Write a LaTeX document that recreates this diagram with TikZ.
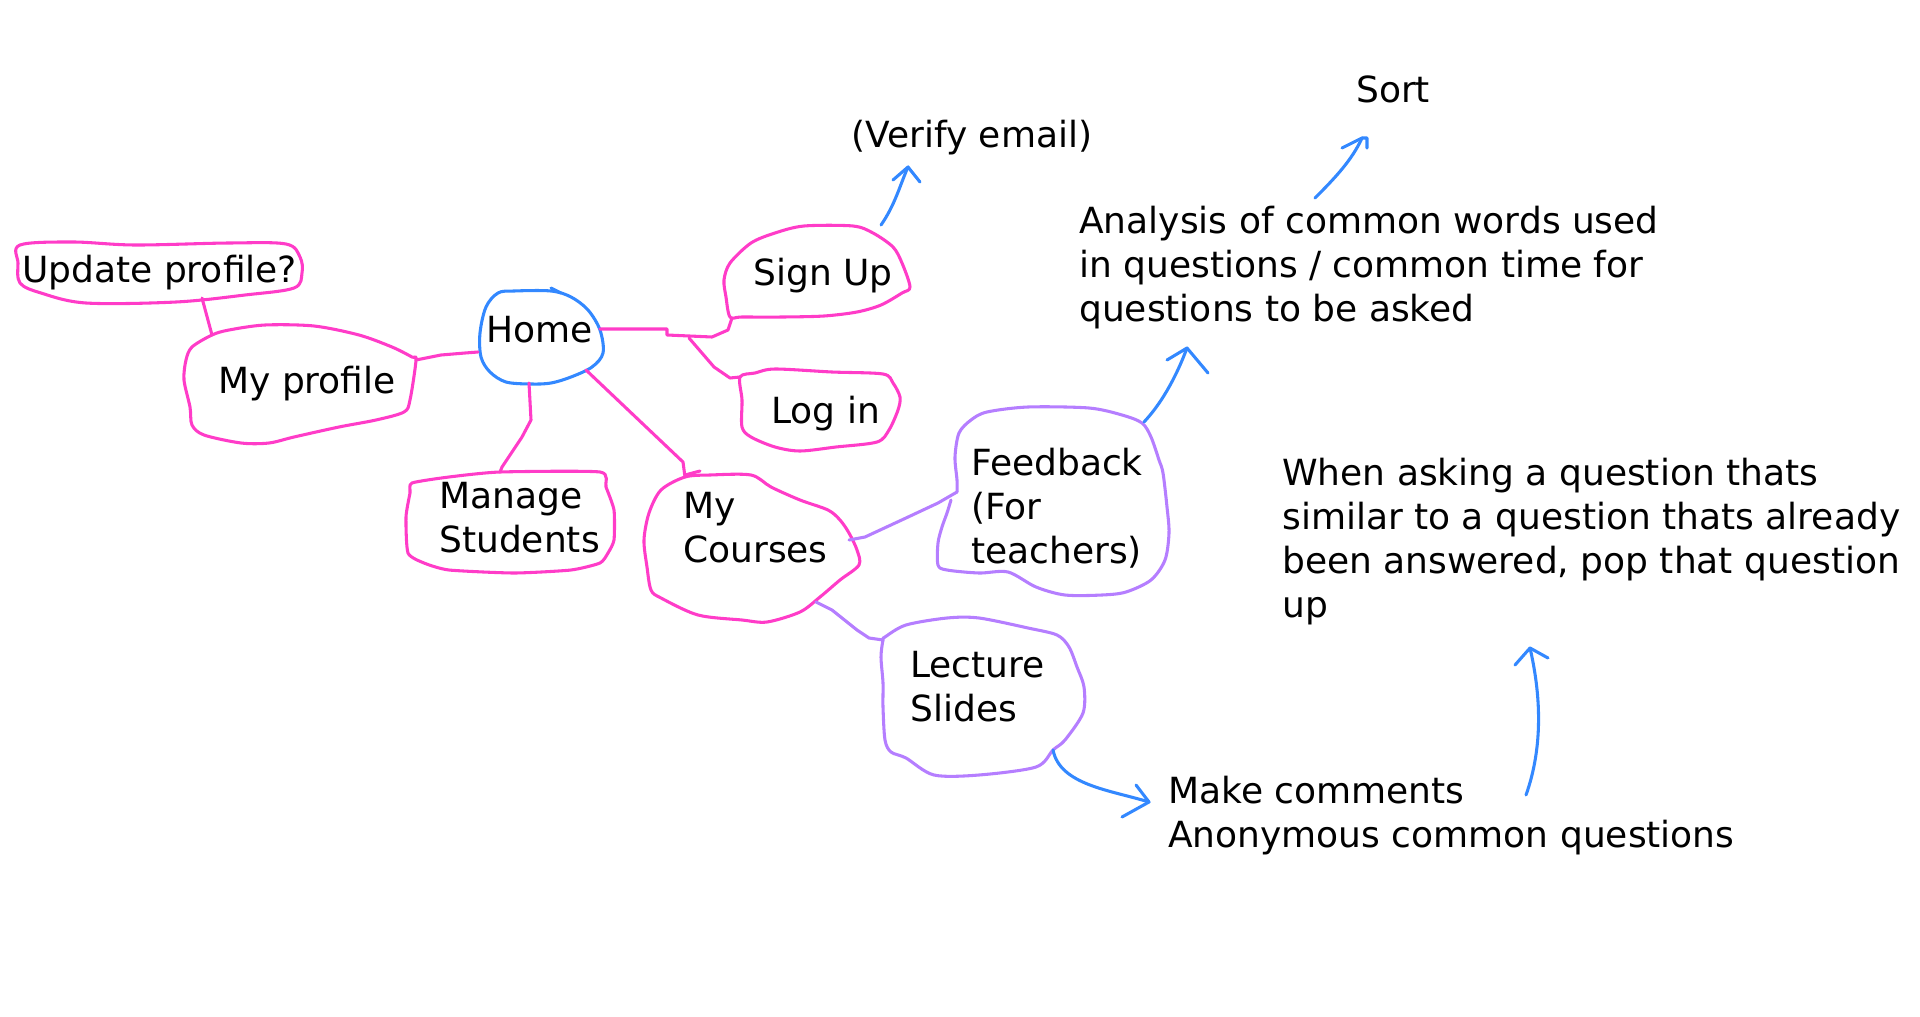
\documentclass[tikz,border=0pt]{standalone}
\usepackage{fontspec}
\setmainfont{DejaVu Sans}
\definecolor{pk}{HTML}{FF3CC8}
\definecolor{bl}{HTML}{3388FF}
\definecolor{pu}{HTML}{B57EFF}
\newcommand{\ml}[1]{\begin{tabular}[t]{@{}l@{}}#1\end{tabular}}
\begin{document}
\begin{tikzpicture}[x=0.75pt,y=-0.75pt,line cap=round,line join=round,
  pkline/.style={draw=pk,line width=2.3pt},
  puline/.style={draw=pu,line width=2.3pt},
  blline/.style={draw=bl,line width=2.3pt},
  txt/.style={anchor=base west,inner sep=0pt,font=\fontsize{27}{33}\selectfont}]
\useasboundingbox (0,0) rectangle (1920,1017);
% ---------- bubbles ----------
\draw[pkline] plot[smooth cycle,tension=0.55] coordinates {(20,245) (73,242) (135,245) (229,243) (286,244) (300,257) (302,273) (294,288) (245,295) (176,302) (86,303) (41,293) (20,283) (18,263)};
\draw[pkline] plot[smooth cycle,tension=0.5] coordinates {(212,335) (192,347) (186,360) (184,380) (190,407) (192,425) (204,435) (241,443) (269,443) (294,437) (339,427) (376,420) (404,412) (410,400) (416,360) (412,357) (392,347) (359,335) (314,326) (265,325) (229,330)};
\draw[blline] plot[smooth cycle,tension=0.55] coordinates {(486,307) (498,293) (514,291) (551,291) (571,297) (588,310) (600,330) (603,353) (592,367) (571,377) (551,383) (531,384) (506,382) (490,372) (481,357) (480,333)};
\draw[blline] (551,288) -- (561,293);
\draw[pkline] plot[smooth cycle,tension=0.35] coordinates {(412,483) (449,477) (500,472) (600,472) (606,487) (614,510) (614,540) (608,553) (600,563) (571,570) (514,573) (449,570) (424,563) (408,553) (406,517) (410,493)};
\draw[pkline] plot[smooth cycle,tension=0.5] coordinates {(730,317) (726,297) (724,280) (730,263) (751,243) (775,233) (804,226) (853,226) (873,233) (893,247) (902,263) (910,287) (902,293) (881,305) (857,312) (824,316) (783,317) (742,317)};
\draw[pkline] plot[smooth cycle,tension=0.5] coordinates {(740,377) (742,400) (742,427) (751,437) (775,447) (800,451) (836,447) (877,442) (889,430) (898,410) (900,397) (893,383) (883,374) (832,372) (775,369) (755,373)};
\draw[pkline] plot[smooth cycle,tension=0.5] coordinates {(685,477) (661,490) (649,513) (644,540) (647,567) (651,590) (661,598) (698,615) (742,620) (767,622) (800,612) (820,597) (840,580) (859,565) (857,550) (849,533) (840,520) (828,510) (800,500) (771,487) (751,475) (710,475)};
\draw[puline] plot[smooth,tension=0.5] coordinates {(951,500) (947,513) (942,527) (938,543) (938,565) (947,570) (979,573) (1008,572) (1036,587) (1065,595) (1102,595) (1126,592) (1151,580) (1165,560) (1169,533) (1167,507) (1163,473) (1159,460) (1151,437) (1142,423) (1122,415) (1089,408) (1028,407) (987,412) (971,420) (959,433) (955,457) (957,480) (957,492)};
\draw[puline] plot[smooth cycle,tension=0.5] coordinates {(883,640) (881,657) (883,683) (883,707) (885,740) (891,752) (906,758) (934,775) (979,775) (1036,767) (1053,750) (1065,740) (1083,713) (1084,687) (1077,667) (1069,647) (1057,635) (1028,628) (979,618) (947,618) (906,625) (885,637)};
% ---------- texts ----------
\node[txt] (upd) at (22,282) {Update profile?};
\node[txt] (prof) at (218,393) {My profile};
\node[txt] (home) at (486,342) {Home};
\node[txt] (manage) at (439,508) {\ml{Manage\\Students}};
\node[txt] (signup) at (753,285) {Sign Up};
\node[txt] (login) at (771,423) {Log in};
\node[txt] (verify) at (851,147) {(Verify email)};
\node[txt] (courses) at (683,518) {\ml{My\\Courses}};
\node[txt] (feedback) at (971,475) {\ml{Feedback\\(For\\teachers)}};
\node[txt] (lecture) at (910,677) {\ml{Lecture\\Slides}};
\node[txt] (comments) at (1168,803) {\ml{Make comments\\Anonymous common questions}};
\node[txt] (sort) at (1356,102) {Sort};
\node[txt] (analysis) at (1079,233) {\ml{Analysis of common words used\\in questions / common time for\\questions to be asked}};
\node[txt] (similar) at (1282,485) {\ml{When asking a question thats\\similar to a question thats already\\been answered, pop that question\\up}};
% ---------- connector end points ----------
\coordinate (updS) at (202,298); \coordinate (profN) at (212,335);
\coordinate (profE) at (416,360); \coordinate (homeW) at (478,352);
\coordinate (homeS) at (529,383); \coordinate (manN) at (500,472);
\coordinate (homeE) at (600,329); \coordinate (signS) at (732,318);
\coordinate (fork) at (689,338); \coordinate (logW) at (740,377);
\coordinate (homeSE) at (586,370); \coordinate (courN) at (685,477);
\coordinate (courE) at (849,540); \coordinate (feedW) at (957,492);
\coordinate (courSE) at (816,602); \coordinate (lectW) at (883,640);
\coordinate (signNE) at (881,225); \coordinate (verS) at (908,167);
\coordinate (feedNE) at (1144,422); \coordinate (anaS) at (1187,348);
\coordinate (anaN) at (1315,198); \coordinate (sortS) at (1362,138);
\coordinate (lectSE) at (1053,750); \coordinate (comW) at (1149,802);
\coordinate (comE) at (1526,795); \coordinate (simS) at (1530,648);
% ---------- connectors ----------
\draw[pkline] (updS) -- (profN);
\draw[pkline] (profE) -- (441,355) -- (465,353) -- (homeW);
\draw[pkline] (homeS) -- (531,420) -- (522,437) -- (502,467) -- (manN);
\draw[pkline] (homeE) -- (667,329) -- (667,335) -- (712,337) -- (728,330) -- (signS);
\draw[pkline] (fork) -- (714,367) -- (730,378) -- (logW);
\draw[pkline] (homeSE) -- (683,462) -- (courN);
\draw[pkline] (685,475) -- (700,471);
\draw[puline] (courE) -- (865,537) -- (906,518) -- (938,503) -- (feedW);
\draw[puline] (courSE) -- (832,610) -- (857,630) -- (869,638) -- (lectW);
% ---------- blue arrows ----------
\draw[blline] (signNE) .. controls (895,205) and (900,185) .. (verS);
\draw[blline] (893,180) -- (verS) -- (920,182);
\draw[blline] (feedNE) .. controls (1160,405) and (1175,380) .. (anaS);
\draw[blline] (1167,360) -- (anaS) -- (1208,373);
\draw[blline] (anaN) .. controls (1335,178) and (1352,160) .. (sortS);
\draw[blline] (1342,148) -- (sortS) -- (1367,138) -- (1367,148);
\draw[blline] (lectSE) .. controls (1060,785) and (1110,790) .. (comW);
\draw[blline] (1136,785) -- (comW) -- (1122,817);
\draw[blline] (comE) .. controls (1542,750) and (1542,700) .. (simS);
\draw[blline] (1515,665) -- (simS) -- (1548,658);
\end{tikzpicture}
\end{document}
